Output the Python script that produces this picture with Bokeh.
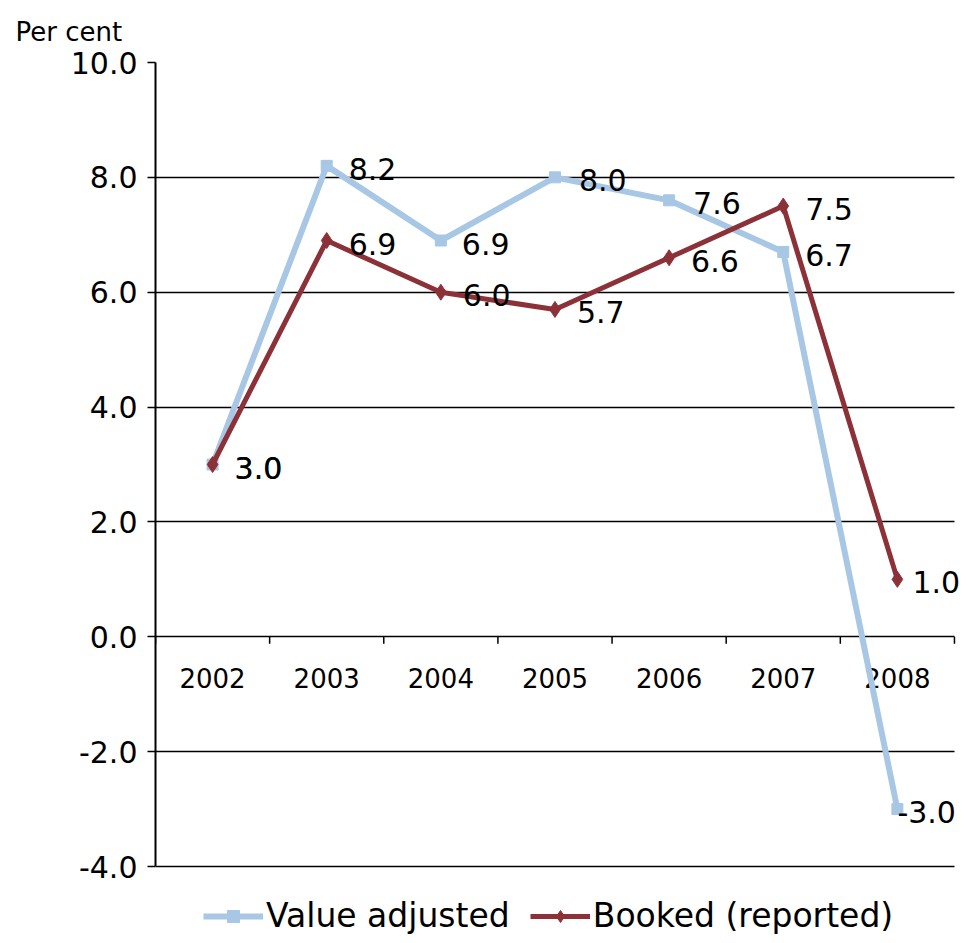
from bokeh.plotting import figure
from bokeh.models import (FixedTicker, NumeralTickFormatter, Range1d, Legend, LegendItem,
                          ColumnDataSource)
from bokeh.core.properties import value
from bokeh.embed import file_html
from bokeh.resources import INLINE

years = ["2002", "2003", "2004", "2005", "2006", "2007", "2008"]
value_adjusted = [3.0, 8.2, 6.9, 8.0, 7.6, 6.7, -3.0]
booked = [3.0, 6.9, 6.0, 5.7, 6.6, 7.5, 1.0]
y_ticks = [-4, -2, 0, 2, 4, 6, 8, 10]

BLUE = "#A7C7E5"
RED = "#8C3138"
FONT = "DejaVu Sans"

n = len(years)
centers = [i + 0.5 for i in range(n)]
bounds = list(range(n + 1))

PX_PER_UNIT = 804 / (y_ticks[-1] - y_ticks[0])   # plot area height / value span
LEGEND_ROOM = 69 / PX_PER_UNIT                      # room under the plot area for the legend

p = figure(frame_width=805, frame_height=873, output_backend="svg", toolbar_location=None,
           x_axis_location=None,
           x_range=Range1d(0, n + 0.053),
           y_range=Range1d(y_ticks[0] - LEGEND_ROOM, y_ticks[-1]),
           min_border_left=155, min_border_right=0, min_border_top=62, min_border_bottom=0)
p.outline_line_color = None
p.background_fill_color = "white"
p.border_fill_color = "white"

p.title.text = "Per cent"
p.title.text_font = FONT
p.title.text_font_size = "26px"
p.title.text_font_style = "normal"
p.title.text_color = "black"
p.title.align = "left"
p.title.offset = -140
p.title.vertical_align = "top"
p.title.standoff = 28

# y axis
yax = p.yaxis[0]
yax.bounds = (y_ticks[0], y_ticks[-1])
yax.ticker = FixedTicker(ticks=y_ticks)
yax.formatter = NumeralTickFormatter(format="0.0")
yax.major_label_text_font = FONT
yax.major_label_text_font_size = "30px"
yax.major_label_text_color = "black"
yax.axis_line_color = "black"
yax.axis_line_width = 2
yax.major_tick_line_color = "black"
yax.major_tick_line_width = 1.5
yax.major_tick_out = 8
yax.major_tick_in = 0
yax.minor_tick_line_color = None
yax.major_label_standoff = 10

p.ygrid.ticker = FixedTicker(ticks=y_ticks)
p.ygrid.grid_line_color = "black"
p.ygrid.grid_line_width = 1.5
p.ygrid.cross_bounds = (0, n)
p.xgrid.grid_line_color = None

# category axis drawn along the zero line
tick_len = 7 / PX_PER_UNIT
p.segment(x0=bounds, y0=[0] * len(bounds), x1=bounds, y1=[-tick_len] * len(bounds),
          line_color="black", line_width=1.5)
p.text(x=centers, y=[0] * n, text=years, y_offset=41,
       text_font=value(FONT), text_font_size="26px", text_color="black",
       text_baseline="middle", text_align="center")

src = ColumnDataSource(dict(x=centers, va=value_adjusted, bk=booked,
                            va_lbl=[f"{v:.1f}" for v in value_adjusted],
                            bk_lbl=[f"{v:.1f}" for v in booked]))

l1 = p.line("x", "va", source=src, line_color=BLUE, line_width=6)
m1 = p.scatter("x", "va", source=src, marker="square", size=11, fill_color=BLUE, line_color=BLUE)
l2 = p.line("x", "bk", source=src, line_color=RED, line_width=5)
m2 = p.scatter("x", "bk", source=src, marker="diamond", size=16, fill_color=RED, line_color=RED)

src.data["va_xoff"] = [22, 22, 21, 24, 24, 22, 0]
src.data["bk_xoff"] = [22, 22, 22, 22, 22, 22, 15]
p.text("x", "va", text="va_lbl", source=src, x_offset="va_xoff", y_offset=3,
       text_font=value(FONT), text_font_size="30px", text_color="black",
       text_baseline="middle", text_align="left")
p.text("x", "bk", text="bk_lbl", source=src, x_offset="bk_xoff", y_offset=3,
       text_font=value(FONT), text_font_size="30px", text_color="black",
       text_baseline="middle", text_align="left")

legend = Legend(items=[LegendItem(label="Value adjusted", renderers=[l1, m1]),
                       LegendItem(label="Booked (reported)", renderers=[l2, m2])],
                orientation="horizontal", location=(48, 0),
                label_text_font=FONT, label_text_font_size="33px", label_text_color="black",
                glyph_width=60, glyph_height=30, label_standoff=3, spacing=20,
                border_line_color=None, background_fill_alpha=0, padding=2, margin=0)
p.add_layout(legend, "center")

open("out.html", "w").write(file_html(p, INLINE))
